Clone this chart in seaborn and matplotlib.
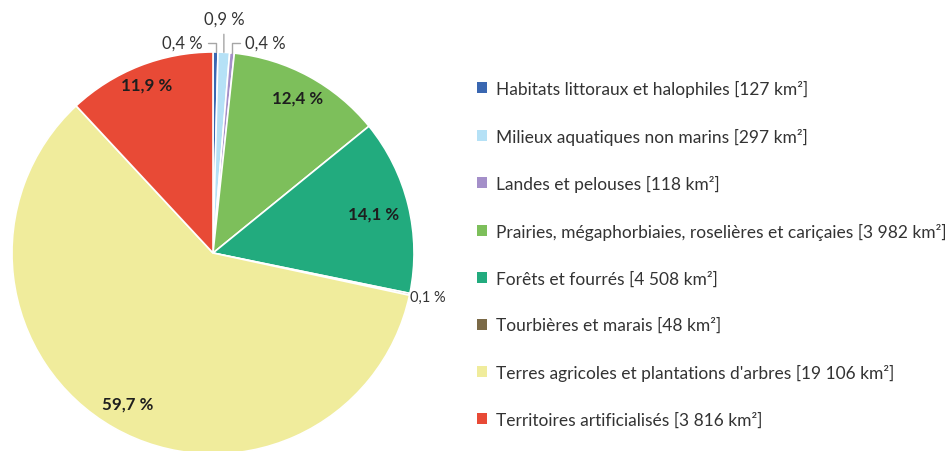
import numpy as np
import matplotlib
matplotlib.use("Agg")
import matplotlib.pyplot as plt
import seaborn as sns
from matplotlib.patches import Patch

sns.set_theme(style="white")
plt.rcParams['font.family'] = ['Lato', 'DejaVu Sans']

categories = [
    "Habitats littoraux et halophiles [127 km²]",
    "Milieux aquatiques non marins [297 km²]",
    "Landes et pelouses [118 km²]",
    "Prairies, mégaphorbiaies, roselières et cariçaies [3 982 km²]",
    "Forêts et fourrés [4 508 km²]",
    "Tourbières et marais [48 km²]",
    "Terres agricoles et plantations d'arbres [19 106 km²]",
    "Territoires artificialisés [3 816 km²]",
]
areas_km2 = [127, 297, 118, 3982, 4508, 48, 19106, 3816]
pct_labels = ["0,4 %", "0,9 %", "0,4 %", "12,4 %", "14,1 %", "0,1 %", "59,7 %", "11,9 %"]
colors = ["#3a67b1", "#b5e1f6", "#a48fc9", "#7dbf5b", "#22ab7e", "#7b6a47", "#f0ec9c", "#e84a36"]

fig = plt.figure(figsize=(9.5, 4.52), dpi=100)
ax = fig.add_axes([12/950, -3/452, 402/950, 402/452])
wedges, _ = ax.pie(areas_km2, colors=colors, startangle=90, counterclock=False,
                   radius=1.0, wedgeprops=dict(edgecolor="white", linewidth=1.2))
ax.set_xlim(-1, 1)
ax.set_ylim(-1, 1)
ax.set_aspect("equal")
ax.axis("off")

total = float(np.sum(areas_km2))
cum = np.cumsum([0] + areas_km2[:-1])
mid_frac = (cum + np.array(areas_km2) / 2) / total
theta = 2 * np.pi * mid_frac  # clockwise from top

inside_r = {3: 0.88, 4: 0.82, 6: 0.86, 7: 0.90}
for i, r in inside_r.items():
    x, y = r * np.sin(theta[i]), r * np.cos(theta[i])
    ax.text(x, y, pct_labels[i], ha="center", va="center", fontsize=12.2,
            fontweight="bold", color="#1e1e1e")

lead = "#a6a6a6"
small_fs = 12
x0, y0 = np.sin(theta[0]), np.cos(theta[0])
ax.annotate(pct_labels[0], xy=(x0, y0), xytext=(-0.05, 1.045), ha="right", va="center",
            fontsize=small_fs, color="#333333", annotation_clip=False,
            arrowprops=dict(arrowstyle="-", color=lead, lw=1,
                            connectionstyle="angle,angleA=0,angleB=90,rad=0",
                            shrinkA=1, shrinkB=0))
x1, y1 = np.sin(theta[1]), np.cos(theta[1])
ax.annotate(pct_labels[1], xy=(x1, y1), xytext=(x1, 1.165), ha="center", va="center",
            fontsize=small_fs, color="#333333", annotation_clip=False,
            arrowprops=dict(arrowstyle="-", color=lead, lw=1, shrinkA=3, shrinkB=0))
x2, y2 = np.sin(theta[2]), np.cos(theta[2])
ax.annotate(pct_labels[2], xy=(x2, y2), xytext=(0.16, 1.045), ha="left", va="center",
            fontsize=small_fs, color="#333333", annotation_clip=False,
            arrowprops=dict(arrowstyle="-", color=lead, lw=1,
                            connectionstyle="angle,angleA=0,angleB=90,rad=0",
                            shrinkA=1, shrinkB=0))
x5, y5 = np.sin(theta[5]), np.cos(theta[5])
ax.text(x5 * 1.0, y5 - 0.015, pct_labels[5], ha="left", va="center", fontsize=10.5,
        color="#333333", clip_on=False)

handles = [Patch(facecolor=c, edgecolor="none") for c in colors]
leg = fig.legend(handles, categories, loc="upper left", bbox_to_anchor=(470/950, 1 - 74/452),
                 frameon=False, fontsize=12.5, handlelength=0.6, handleheight=0.6,
                 handletextpad=0.5, labelspacing=1.76, borderaxespad=0)
for t in leg.get_texts():
    t.set_color("#333333")

fig.savefig("out.png", dpi=100)
